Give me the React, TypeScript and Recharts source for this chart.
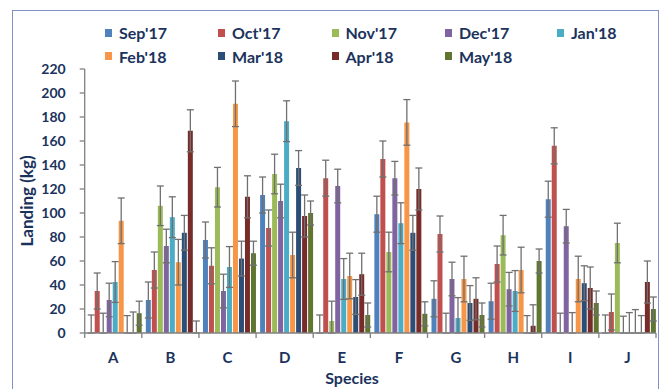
import React from "react";
import { BarChart, Bar, XAxis, YAxis, ErrorBar } from "recharts";

const species = ["A", "B", "C", "D", "E", "F", "G", "H", "I", "J"];

// landing (kg) per species, one array per month
const sep17 = [0, 27.5, 77.5, 115, 0, 99, 28.5, 26.5, 111.5, 0];
const oct17 = [35, 52.5, 56, 87.5, 129, 145, 82.5, 57.5, 156, 17.5];
const nov17 = [0, 106, 121.5, 132.5, 10, 67.5, 0, 81.5, 0, 75];
const dec17 = [27.5, 72.5, 35, 110, 122.5, 129, 45, 36.5, 89, 0];
const jan18 = [42.5, 96.5, 55, 176.5, 45, 91.5, 12.5, 35, 0, 0];
const feb18 = [93.5, 59, 191, 65, 47.5, 175.5, 45, 52.5, 45, 0];
const mar18 = [0, 83.5, 62, 137.5, 30, 83.5, 25, 0, 41.5, 0];
const apr18 = [0, 168.5, 113.5, 97.5, 49, 120, 28.5, 6, 37.5, 42.5];
const may18 = [16.5, 0, 66.5, 100, 15, 16, 15, 60, 25, 20];

// error (+/-) per species
const sep17Err = [15, 15, 15, 15, 15, 15, 15, 15, 15, 15];
const oct17Err = [15, 15, 15, 15, 15, 15, 15, 15, 15, 15];
const nov17Err = [16.5, 16.5, 16.5, 16.5, 16.5, 16.5, 16.5, 16.5, 16.5, 16.5];
const dec17Err = [14, 14, 14, 14, 14, 14, 14, 14, 14, 14];
const jan18Err = [17, 17, 17, 17, 17, 17, 17, 17, 17, 17];
const feb18Err = [19, 19, 19, 19, 19, 19, 19, 19, 19, 19.5];
const mar18Err = [14.5, 14.5, 14.5, 14.5, 14.5, 14.5, 14.5, 14.5, 14.5, 14.5];
const apr18Err = [17.5, 17.5, 17.5, 17.5, 17.5, 17.5, 17.5, 17.5, 17.5, 17.5];
const may18Err = [10, 10, 10, 10, 10, 10, 10, 10, 10, 10];

const yTicks = [0, 20, 40, 60, 80, 100, 120, 140, 160, 180, 200, 220];

const months = [
  { key: "sep17", name: "Sep'17", color: "#4F81BD", values: sep17, err: sep17Err },
  { key: "oct17", name: "Oct'17", color: "#C0504D", values: oct17, err: oct17Err },
  { key: "nov17", name: "Nov'17", color: "#9BBB59", values: nov17, err: nov17Err },
  { key: "dec17", name: "Dec'17", color: "#8064A2", values: dec17, err: dec17Err },
  { key: "jan18", name: "Jan'18", color: "#4BACC6", values: jan18, err: jan18Err },
  { key: "feb18", name: "Feb'18", color: "#F79646", values: feb18, err: feb18Err },
  { key: "mar18", name: "Mar'18", color: "#2C4D75", values: mar18, err: mar18Err },
  { key: "apr18", name: "Apr'18", color: "#772C2A", values: apr18, err: apr18Err },
  { key: "may18", name: "May'18", color: "#5F7530", values: may18, err: may18Err },
];

const data = species.map((s, i) => {
  const row: any = { name: s };
  months.forEach((m) => {
    row[m.key] = m.values[i];
    // no whisker below zero
    row[m.key + "Err"] = [Math.min(m.values[i], m.err[i]), m.err[i]];
  });
  return row;
});

const navy = "#1b335c";
const font = "Lato, 'Open Sans', sans-serif";
const axisGray = "#808080";

const SpeciesTick = (props: any) => {
  const { x, y, payload, index } = props;
  const half = payload && payload.offset ? payload.offset : 28.55;
  return (
    <g>
      <line x1={x - half} y1={y} x2={x - half} y2={y + 5} stroke={axisGray} strokeWidth={1.3} />
      {index === species.length - 1 && (
        <line x1={x + half} y1={y} x2={x + half} y2={y + 5} stroke={axisGray} strokeWidth={1.3} />
      )}
      <text x={x} y={y + 30} textAnchor="middle" fill={navy} fontSize={15} fontWeight="bold" fontFamily={font}>
        {payload.value}
      </text>
    </g>
  );
};

const legendCols = [105, 218, 331.5, 445, 557];
const legendRows = [32.5, 56];

const App = () => {
  return (
    <div style={{ position: "absolute", left: 0, top: 0, width: 664, height: 389, background: "#fff", fontFamily: font }}>
      <div
        style={{
          position: "absolute",
          left: 12,
          top: 10,
          width: 647,
          height: 385,
          border: "1.5px solid #7f93c9",
          boxSizing: "border-box",
        }}
      />
      {months.map((m, i) => (
        <div
          key={m.key}
          style={{
            position: "absolute",
            left: legendCols[i % 5],
            top: legendRows[Math.floor(i / 5)] - 10,
            height: 20,
            display: "flex",
            alignItems: "center",
            whiteSpace: "nowrap",
          }}
        >
          <span style={{ display: "inline-block", width: 7, height: 8, background: m.color, marginRight: 7 }} />
          <span style={{ color: navy, fontSize: 16, fontWeight: "bold" }}>{m.name}</span>
        </div>
      ))}
      <div
        style={{
          position: "absolute",
          left: 27 - 60,
          top: 201 - 10,
          width: 120,
          height: 20,
          lineHeight: "20px",
          textAlign: "center",
          transform: "rotate(-90deg)",
          color: navy,
          fontSize: 17,
          fontWeight: "bold",
        }}
      >
        Landing (kg)
      </div>
      <div
        style={{
          position: "absolute",
          left: 352 - 60,
          top: 378 - 10,
          width: 120,
          height: 20,
          lineHeight: "20px",
          textAlign: "center",
          color: navy,
          fontSize: 16,
          fontWeight: "bold",
        }}
      >
        Species
      </div>
      <div style={{ position: "absolute", left: 0, top: 0 }}>
        <BarChart
          width={664}
          height={389}
          data={data}
          margin={{ top: 69, right: 8, left: 24.7, bottom: 26 }}
          barCategoryGap={4}
          barGap={1}
        >
          <XAxis
            dataKey="name"
            height={30}
            tickLine={false}
            tickSize={0}
            tickMargin={0}
            axisLine={{ stroke: axisGray, strokeWidth: 1.3 }}
            tick={<SpeciesTick />}
            interval={0}
          />
          <YAxis
            width={60}
            domain={[0, 220]}
            ticks={yTicks}
            allowDataOverflow
            tickSize={5}
            tickMargin={14}
            axisLine={{ stroke: axisGray, strokeWidth: 1.3 }}
            tickLine={{ stroke: axisGray, strokeWidth: 1.3 }}
            tick={{ fill: navy, fontSize: 14, fontWeight: "bold", fontFamily: font }}
          />
          {months.map((m) => (
            <Bar
              key={m.key}
              // zero-height bars get no whisker in recharts, so keep a hair above 0
              dataKey={(d: any) => Math.max(d[m.key], 0.001)}
              name={m.name}
              fill={m.color}
              isAnimationActive={false}
            >
              <ErrorBar dataKey={m.key + "Err"} width={3.5} stroke="#707070" strokeWidth={1.3} direction="y" />
            </Bar>
          ))}
        </BarChart>
      </div>
    </div>
  );
};

export default App;
